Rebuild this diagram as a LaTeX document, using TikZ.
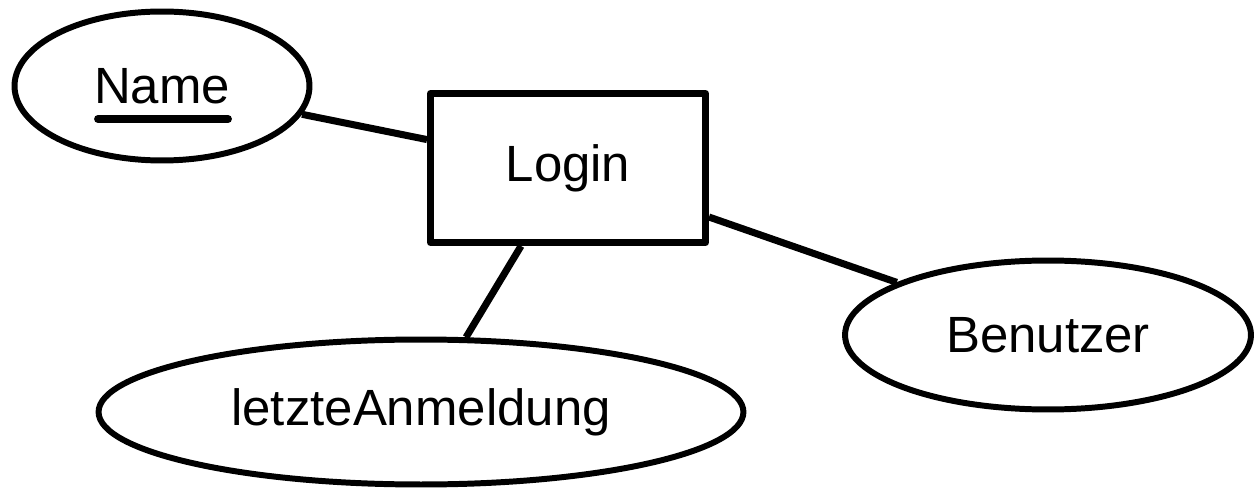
\documentclass[tikz,border=0pt]{standalone}
\usepackage{fontspec}
\setmainfont{Liberation Sans}
\usetikzlibrary{shapes.geometric}

\begin{document}
\begin{tikzpicture}[x=0.02cm, y=-0.02cm, line width=3.4pt,
  attr/.style = {draw, ellipse, inner sep=0pt, font=\fontsize{29}{34}\selectfont},
  entity/.style = {draw, rectangle, inner sep=0pt, line width=4pt, line join=round, font=\fontsize{29}{34}\selectfont}]
\useasboundingbox (0,0) rectangle (1254,493);

\node[entity, minimum width=5.5cm, minimum height=2.98cm] (login) at (568,168) {Login};

\node[attr, minimum width=5.9cm, minimum height=2.98cm] (name) at (162,86) {Name};
\node[attr, minimum width=8.12cm, minimum height=2.98cm] (benutzer) at (1048,335) {Benutzer};
\node[attr, minimum width=12.9cm, minimum height=2.9cm] (letzte) at (421,412) {letzteAnmeldung};

% Schluesselattribut unterstrichen
\draw[line width=4.5pt, line cap=round] (98,119) -- (228,119);

\draw[line width=4pt] (name) -- (login);
\draw[line width=4pt] (login) -- (letzte);
\draw[line width=4pt] (login) -- (benutzer);

\end{tikzpicture}
\end{document}
